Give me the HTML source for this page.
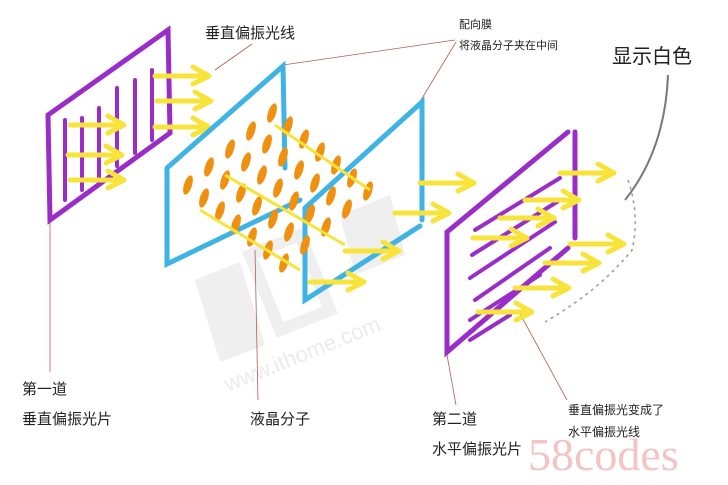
<!DOCTYPE html>
<html><head><meta charset="utf-8"><style>
html,body{margin:0;padding:0;background:#fff;width:728px;height:485px;overflow:hidden}
svg{display:block}
text{font-family:"Liberation Sans","Noto Sans CJK SC",sans-serif;fill:#222}
</style></head><body>
<svg width="728" height="485" viewBox="0 0 728 485" xmlns="http://www.w3.org/2000/svg">
<defs>
<ellipse id="m" cx="0" cy="0" rx="4" ry="10" fill="#f0900f" transform="rotate(18)"/>
<g id="row">
<use href="#m" x="0" y="0"/><use href="#m" x="16" y="13"/><use href="#m" x="32" y="26"/><use href="#m" x="48" y="39"/><use href="#m" x="64" y="52"/><use href="#m" x="80" y="65"/><use href="#m" x="96" y="78"/>
</g>
<g id="ar"><path d="M0 0 H52 M38 -9 L54 0 L38 8" fill="none" stroke="#f8e33a" stroke-width="5" stroke-linecap="round" stroke-linejoin="round"/></g>
</defs>
<g fill="#efefef">
<path d="M195 280 L240 262 L265 345 L220 362Z"/>
<path d="M250 255 L300 235 L330 310 L280 330Z" fill="none" stroke="#efefef" stroke-width="12"/>
<path d="M340 215 L390 195 L405 255 L355 275Z"/>
</g>
<text x="228" y="392" font-size="22" transform="rotate(-22 228 392)" style="fill:#ebebeb">www.ithome.com</text>
<g stroke="#b06050" stroke-width="0.8" fill="none">
<path d="M215 70 L252 44"/><path d="M283 65 L455 40"/><path d="M421 100 L456 42"/>
<path d="M50 222 L50 372"/><path d="M255 250 L258 400"/><path d="M447 355 L456 405"/><path d="M518 310 L567 400"/>
</g>
<g stroke="#9a2dc8" stroke-width="5" fill="none" stroke-linecap="round">
<path d="M48 115 L168 30 L170 133 L50 220 Z"/>
<path d="M65 120 V200 M82 118 V190 M99 108 V178 M117 88 V166 M135 80 V153 M152 70 V140" stroke-width="4"/>
</g>
<use href="#ar" x="155" y="76"/><use href="#ar" x="157" y="101"/><use href="#ar" x="155" y="127"/>
<use href="#ar" x="70" y="125"/><use href="#ar" x="68" y="155"/><use href="#ar" x="70" y="180"/>
<g stroke="#3fb4e4" stroke-width="5" fill="none" stroke-linecap="round">
<path d="M167 168 L283 66 L285 168 M167 168 L167 264 L300 200"/>
<path d="M305 208 L422 102 L422 220 M305 208 L305 300 L420 226"/>
</g>
<use href="#row" x="188" y="185"/><use href="#row" x="209" y="167"/><use href="#row" x="230" y="149"/><use href="#row" x="251" y="131"/><use href="#row" x="272" y="113"/>
<g stroke="#f8e33a" stroke-width="3" fill="none">
<path d="M275 125 L370 190"/><path d="M225 175 L345 245"/><path d="M200 210 L300 270"/>
</g>
<use href="#ar" x="420" y="183"/><use href="#ar" x="395" y="213"/><use href="#ar" x="345" y="251"/><use href="#ar" x="310" y="282"/>
<g stroke="#9a2dc8" stroke-width="5" fill="none" stroke-linecap="round">
<path d="M447 232 L568 132 M575 132 L575 238 M447 232 L447 352 L568 248"/>
<path d="M475 230 L560 178 M472 255 L560 200 M470 278 L555 222 M475 300 L550 248 M470 320 L540 275 M470 340 L510 315" stroke-width="4"/>
</g>
<use href="#ar" x="560" y="173"/><use href="#ar" x="525" y="200"/><use href="#ar" x="500" y="218"/><use href="#ar" x="473" y="238"/>
<use href="#ar" x="570" y="244"/><use href="#ar" x="545" y="263"/><use href="#ar" x="515" y="288"/><use href="#ar" x="478" y="312"/>
<g stroke="#999" fill="none" stroke-width="1.5">
<path d="M668 75 Q665 150 625 200" stroke="#777" stroke-width="2"/>
<path d="M628 180 Q640 215 632 250 Q600 290 545 322" stroke-dasharray="3 4"/>
</g>
<text x="205" y="38" font-size="15">垂直偏振光线</text>
<text x="459" y="28" font-size="11">配向膜</text>
<text x="459" y="49" font-size="11">将液晶分子夹在中间</text>
<text x="612" y="63" font-size="20">显示白色</text>
<text x="22" y="394" font-size="15">第一道</text>
<text x="22" y="424" font-size="15">垂直偏振光片</text>
<text x="250" y="424" font-size="15">液晶分子</text>
<text x="432" y="424" font-size="15">第二道</text>
<text x="432" y="454" font-size="15">水平偏振光片</text>
<text x="568" y="414" font-size="12">垂直偏振光变成了</text>
<text x="568" y="436" font-size="12">水平偏振光线</text>
<text x="528" y="470" font-size="46" style="font-family:'Liberation Serif',serif;fill:#f4c4c4">58codes</text>
</svg>
</body></html>
